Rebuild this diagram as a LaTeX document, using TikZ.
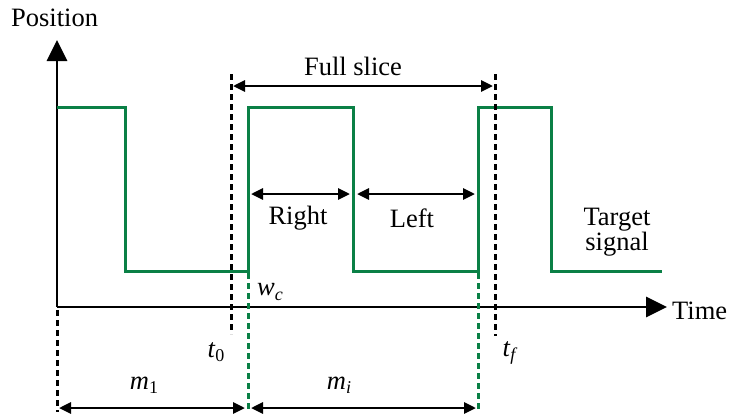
\documentclass[tikz,border=0pt]{standalone}
\usepackage{fontspec}
\setmainfont{Liberation Serif}
\usetikzlibrary{arrows.meta}
\definecolor{sig}{RGB}{10,128,70}
\newcommand{\mysub}[2]{\textit{#1}\raisebox{-0.35ex}{\fontsize{18}{19}\selectfont\textit{#2}}}
\newcommand{\mysubr}[2]{\textit{#1}\raisebox{-0.35ex}{\fontsize{18}{19}\selectfont #2}}
\tikzset{
  lbl/.style={font=\fontsize{26.5}{28}\selectfont, inner sep=0pt},
  axis/.style={line width=2.8pt, -{Triangle[length=21pt,width=20pt]}},
  dim/.style={line width=2.8pt, {Triangle[length=12pt,width=11pt]}-{Triangle[length=12pt,width=11pt]}},
  bdot/.style={line width=3pt, dash pattern=on 6pt off 4pt},
  gdot/.style={line width=3pt, sig, dash pattern=on 6pt off 4pt},
  signal/.style={line width=3pt, sig}
}
\begin{document}
\begin{tikzpicture}[x=1pt,y=-1pt]
\useasboundingbox (0,0) rectangle (729,416);
% coordinates
\coordinate (o) at (57,307);
\coordinate (ytip) at (57,40);
\coordinate (xtip) at (667,307);
% axes
\draw[axis] (o) -- (ytip);
\draw[axis] (o) -- (xtip);
\node[lbl, anchor=west] (pos) at (11,18) {Position};
\node[lbl, anchor=west] (time) at (672,311) {Time};
% signal
\draw[signal] (57,107) -- (125,107) -- (125,271) -- (248,271) -- (248,107) -- (353,107) -- (353,271) -- (478,271) -- (478,107) -- (551,107) -- (551,271) -- (662,271);
% dotted markers
\coordinate (t0a) at (231,74); \coordinate (t0b) at (231,334);
\coordinate (tfa) at (495,74); \coordinate (tfb) at (495,336);
\draw[bdot] (t0a) -- (t0b);
\draw[bdot] (tfa) -- (tfb);
\coordinate (g1a) at (248,273); \coordinate (g1b) at (248,412);
\coordinate (g2a) at (478,273); \coordinate (g2b) at (478,412);
\draw[gdot] (g1a) -- (g1b);
\draw[gdot] (g2a) -- (g2b);
\coordinate (z1) at (57,310); \coordinate (z2) at (57,412);
\draw[bdot] (z1) -- (z2);
% full slice
\coordinate (fsa) at (233,86); \coordinate (fsb) at (493,86);
\draw[dim] (fsa) -- (fsb);
\node[lbl] (fs) at (353,66) {Full slice};
% right / left
\coordinate (ra) at (251,194); \coordinate (rb) at (350,194);
\draw[dim] (ra) -- (rb);
\node[lbl] (right) at (298,218) {Right};
\coordinate (la) at (357,194); \coordinate (lb) at (475,194);
\draw[dim] (la) -- (lb);
\node[lbl] (left) at (412,218) {Left};
% target signal
\node[lbl, align=center] (target) at (617,232) {Target\\[-3pt]signal};
% labels
\node[lbl] (wc) at (270,292) {\mysub{w}{c}};
\node[lbl] (t0) at (216,352) {\mysubr{t}{0}};
\node[lbl] (tf) at (510,353) {\mysub{t}{f}};
% m arrows
\coordinate (m1a) at (59,408); \coordinate (m1b) at (245,408);
\draw[dim] (m1a) -- (m1b);
\node[lbl] (m1) at (144,385) {\mysubr{m}{1}};
\coordinate (mia) at (251,408); \coordinate (mib) at (476,408);
\draw[dim] (mia) -- (mib);
\node[lbl] (mi) at (339,385) {\mysub{m}{i}};
\end{tikzpicture}
\end{document}
